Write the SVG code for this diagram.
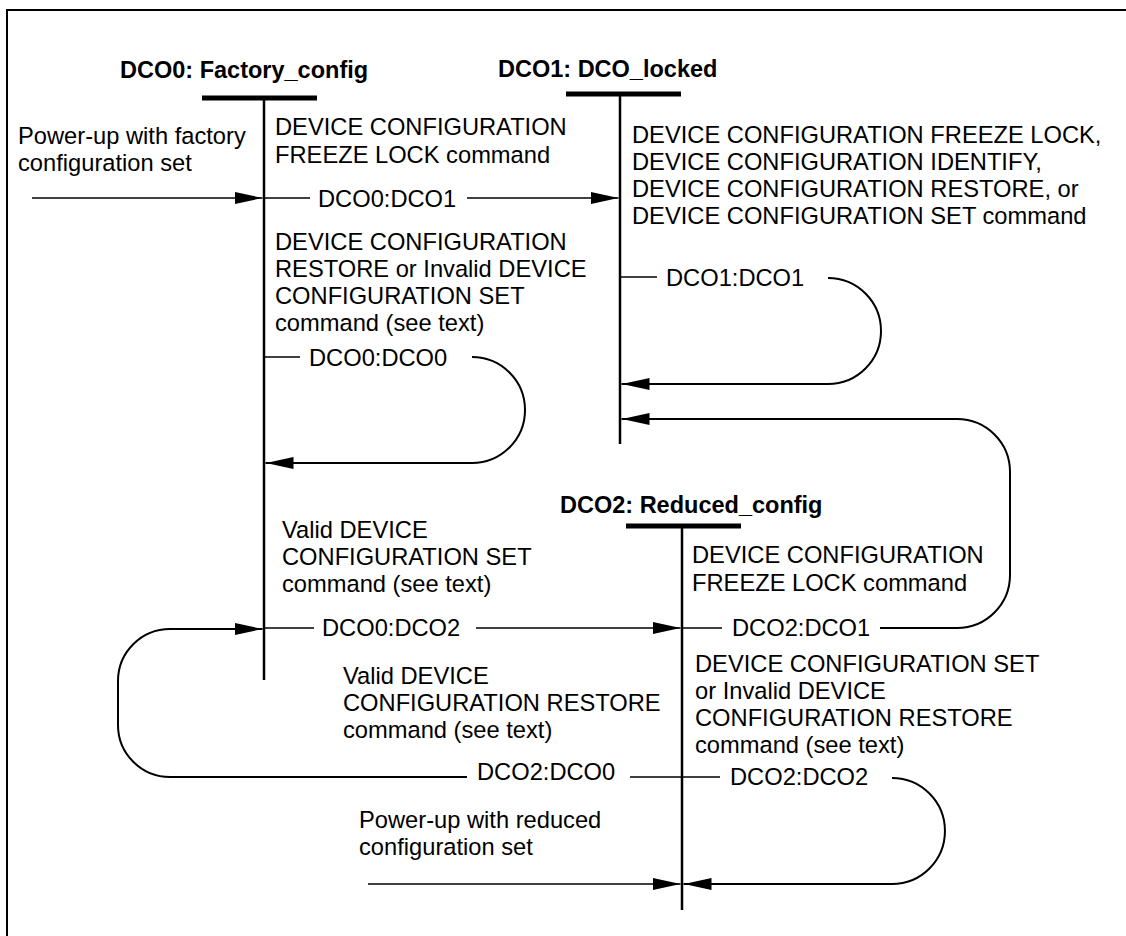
<svg xmlns="http://www.w3.org/2000/svg" width="1126" height="936" viewBox="0 0 1126 936">
<style>
  text { font-family: "Liberation Sans", Arial, sans-serif; font-size: 23.7px; fill: #000; }
  .head { font-weight: bold; font-size: 23.5px; }
  .bar { stroke: #000; stroke-width: 5; fill: none; }
  .life { stroke: #000; stroke-width: 2.5; fill: none; }
  .conn { stroke: #000; stroke-width: 1.6; fill: none; }
  .loop { stroke: #000; stroke-width: 2; fill: none; }
</style>
<defs>
  <marker id="arr" markerUnits="userSpaceOnUse" markerWidth="28" markerHeight="12" refX="28" refY="6" orient="auto">
    <path d="M0,0 L28,6 L0,12 z" fill="#000"/>
  </marker>
</defs>
<rect x="7" y="10" width="1130" height="940" fill="#fff" stroke="#000" stroke-width="2"/>

<g id="dco0">
  <text class="head" x="120" y="78">DCO0: Factory_config</text>
  <line class="bar" x1="202" y1="98" x2="317" y2="98"/>
  <line class="life" x1="264" y1="98" x2="264" y2="680"/>
</g>
<g id="dco1">
  <text class="head" x="498" y="77">DCO1: DCO_locked</text>
  <line class="bar" x1="566" y1="94" x2="681" y2="94"/>
  <line class="life" x1="620" y1="94" x2="620" y2="444"/>
</g>
<g id="dco2">
  <text class="head" x="560" y="513">DCO2: Reduced_config</text>
  <line class="bar" x1="626" y1="526" x2="741" y2="526"/>
  <line class="life" x1="682" y1="526" x2="682" y2="910"/>
</g>

<g id="connectors">
  <!-- power-up factory -->
  <path class="conn" d="M32,198 L262.5,198" marker-end="url(#arr)"/>
  <!-- DCO0:DCO1 -->
  <path class="conn" d="M264,198 L310,198"/>
  <path class="conn" d="M467,198 L618.5,198" marker-end="url(#arr)"/>
  <!-- DCO0:DCO0 -->
  <path class="conn" d="M264,357 L300,357"/>
  <path class="loop" d="M472,357 A53,53 0 0 1 472,463 L265.5,463" marker-end="url(#arr)"/>
  <!-- DCO1:DCO1 -->
  <path class="conn" d="M620,277 L657,277"/>
  <path class="loop" d="M828,278 A53,53 0 0 1 828,384 L621.5,384" marker-end="url(#arr)"/>
  <!-- DCO2:DCO1 -->
  <path class="conn" d="M682,628 L722,628"/>
  <path class="loop" d="M880,628 L957,628 A53,53 0 0 0 1010,575 L1010,472 A53,53 0 0 0 957,419 L621.5,419" marker-end="url(#arr)"/>
  <!-- DCO0:DCO2 -->
  <path class="conn" d="M264,628 L314,628"/>
  <path class="conn" d="M476,628 L680.5,628" marker-end="url(#arr)"/>
  <!-- DCO2:DCO0 / DCO2:DCO2 stub -->
  <path class="conn" d="M630,777 L720,777"/>
  <path class="loop" d="M467,777 L170,777 A52,52 0 0 1 118,725 L118,681 A52,52 0 0 1 170,629 L262.5,629" marker-end="url(#arr)"/>
  <!-- DCO2:DCO2 -->
  <path class="loop" d="M892,778 A53,53 0 0 1 892,884 L683.5,884" marker-end="url(#arr)"/>
  <!-- power-up reduced -->
  <path class="conn" d="M368,884 L680.5,884" marker-end="url(#arr)"/>
</g>

<g id="labels">
  <text x="18" y="144">Power-up with factory</text>
  <text x="18" y="171">configuration set</text>

  <text x="275" y="135">DEVICE CONFIGURATION</text>
  <text x="275" y="163">FREEZE LOCK command</text>
  <text x="318" y="207">DCO0:DCO1</text>

  <text x="275" y="250">DEVICE CONFIGURATION</text>
  <text x="275" y="277">RESTORE or Invalid DEVICE</text>
  <text x="275" y="304">CONFIGURATION SET</text>
  <text x="275" y="331">command (see text)</text>
  <text x="309" y="366">DCO0:DCO0</text>

  <text x="632" y="143">DEVICE CONFIGURATION FREEZE LOCK,</text>
  <text x="632" y="170">DEVICE CONFIGURATION IDENTIFY,</text>
  <text x="632" y="197">DEVICE CONFIGURATION RESTORE, or</text>
  <text x="632" y="224">DEVICE CONFIGURATION SET command</text>
  <text x="666" y="286">DCO1:DCO1</text>

  <text x="282" y="538">Valid DEVICE</text>
  <text x="282" y="565">CONFIGURATION SET</text>
  <text x="282" y="592">command (see text)</text>
  <text x="322" y="636">DCO0:DCO2</text>

  <text x="692" y="563">DEVICE CONFIGURATION</text>
  <text x="692" y="591">FREEZE LOCK command</text>
  <text x="732" y="636">DCO2:DCO1</text>

  <text x="343" y="684">Valid DEVICE</text>
  <text x="343" y="711">CONFIGURATION RESTORE</text>
  <text x="343" y="738">command (see text)</text>
  <text x="477" y="780">DCO2:DCO0</text>

  <text x="695" y="672">DEVICE CONFIGURATION SET</text>
  <text x="695" y="699">or Invalid DEVICE</text>
  <text x="695" y="726">CONFIGURATION RESTORE</text>
  <text x="695" y="753">command (see text)</text>
  <text x="730" y="785">DCO2:DCO2</text>

  <text x="359" y="828">Power-up with reduced</text>
  <text x="359" y="855">configuration set</text>
</g>
</svg>
